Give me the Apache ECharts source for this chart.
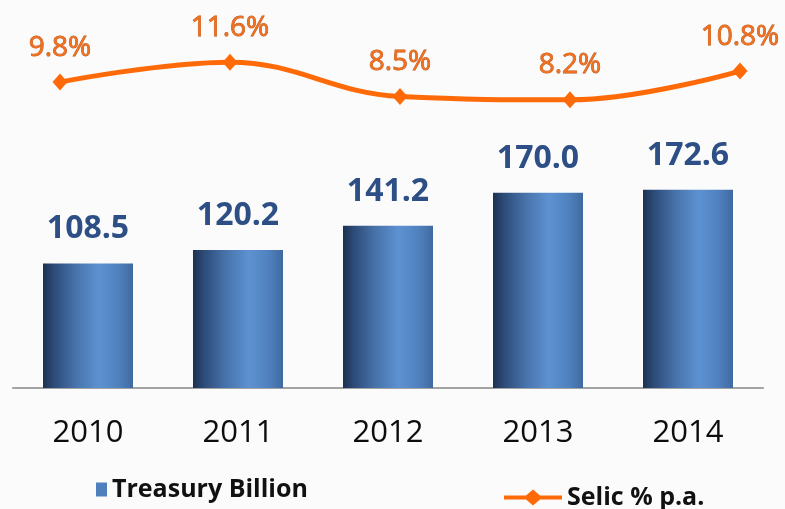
<!DOCTYPE html>
<html>
<head>
<meta charset="utf-8">
<script src="https://cdn.jsdelivr.net/npm/echarts@6/dist/echarts.min.js"></script>
<style>
  html, body { margin: 0; padding: 0; background: #fbfbfb; }
  #chart { width: 785px; height: 509px; }
</style>
</head>
<body>
<div id="chart"></div>
<script>
// Years on the category axis
var years = ['2010', '2011', '2012', '2013', '2014'];
// Treasury stock, billions
var treasury = [108.5, 120.2, 141.2, 170.0, 172.6];
// Selic rate, % per year
var selic = [9.8, 11.6, 8.5, 8.2, 10.8];

var chart = echarts.init(document.getElementById('chart'));

var barGradient = new echarts.graphic.LinearGradient(0, 0, 1, 0, [
  { offset: 0, color: '#1c314f' },
  { offset: 0.12, color: '#2c4b78' },
  { offset: 0.35, color: '#4671a8' },
  { offset: 0.62, color: '#5d92d2' },
  { offset: 0.85, color: '#4f80bd' },
  { offset: 1, color: '#3f6aa0' }
]);

var legendText = { fontFamily: 'Open Sans', fontWeight: 'bold', fontSize: 25, color: '#111' };

// thick line with a diamond marker, for the rate legend entry
var lineDiamondIcon = 'path://M0,6 L22,6 L29,0 L36,6 L58,6 L58,10 L36,10 L29,16 L22,10 L0,10 Z';

chart.setOption({
  backgroundColor: '#fbfbfb',
  animation: false,
  legend: [
    {
      data: ['Treasury Billion'],
      left: 91, top: 472,
      icon: 'rect', itemWidth: 11, itemHeight: 14, itemGap: 5,
      itemStyle: { color: '#4f80bd' },
      textStyle: legendText
    },
    {
      data: [{ name: 'Selic % p.a.', icon: lineDiamondIcon }],
      left: 499, top: 480,
      itemWidth: 58, itemHeight: 16, itemGap: 4,
      itemStyle: { color: '#ff6a08' },
      textStyle: legendText
    }
  ],
  grid: [
    { left: 13, right: 22, top: 40, height: 348 },
    { left: 60, right: 45, top: 40, height: 348 }
  ],
  xAxis: [
    {
      gridIndex: 0, type: 'category', data: years,
      axisLine: { lineStyle: { color: '#a3a3a3', width: 2 } },
      axisTick: { show: false },
      axisLabel: { margin: 30, fontFamily: 'Open Sans', fontWeight: 500, fontSize: 31, color: '#0d0d0d' }
    },
    {
      gridIndex: 1, type: 'category', data: years, boundaryGap: false, show: false
    }
  ],
  yAxis: [
    { gridIndex: 0, type: 'value', min: 0, max: 303, show: false, splitLine: { show: false } },
    { gridIndex: 1, type: 'value', min: -17.8, max: 13.6, show: false, splitLine: { show: false } }
  ],
  series: [
    {
      name: 'Treasury Billion', type: 'bar',
      xAxisIndex: 0, yAxisIndex: 0,
      data: treasury, barWidth: 90,
      itemStyle: { color: barGradient },
      label: {
        show: true, position: 'top', distance: 18,
        formatter: function (p) { return p.value.toFixed(1); },
        fontFamily: 'Open Sans', fontWeight: 'bold', fontSize: 32, color: '#2d4f85'
      }
    },
    {
      name: 'Selic % p.a.', type: 'line',
      xAxisIndex: 1, yAxisIndex: 1,
      data: selic, smooth: 0.4,
      symbol: 'diamond', symbolSize: [15, 17],
      lineStyle: { color: '#ff6a08', width: 5 },
      itemStyle: { color: '#ff6a08' },
      label: {
        show: true, position: 'top', distance: 12,
        formatter: function (p) { return p.value.toFixed(1) + '%'; },
        fontFamily: 'Open Sans', fontSize: 28, color: '#f07020',
        textBorderColor: '#b8561a', textBorderWidth: 0.8
      }
    }
  ]
});
</script>
</body>
</html>
